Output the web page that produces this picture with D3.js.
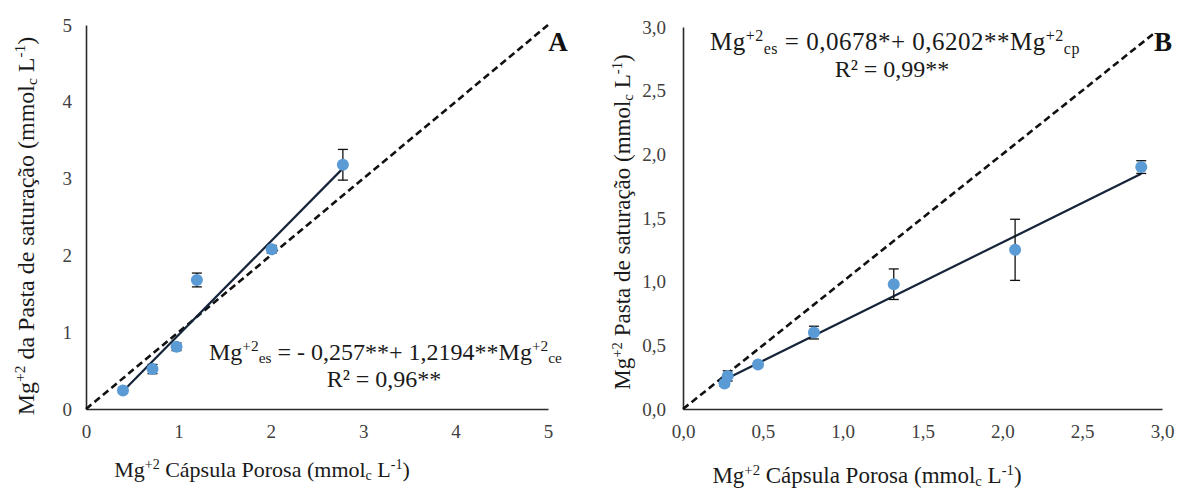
<!DOCTYPE html>
<html>
<head>
<meta charset="utf-8">
<script src="https://cdn.jsdelivr.net/npm/d3@7"></script>
<style>
  body { margin: 0; background: #fff; }
  svg text { font-family: "Liberation Serif", serif; }
</style>
</head>
<body>
<div id="chart"></div>
<script>
// Painel A
const capsulaA = [0.40, 0.72, 0.98, 1.20, 2.01, 2.78];
const pastaA = [0.24, 0.52, 0.81, 1.68, 2.08, 3.18];
const erroA = [0.03, 0.06, 0.05, 0.09, 0.05, 0.20];
const coefA = [-0.257, 1.2194];
const ticksA = [0, 1, 2, 3, 4, 5];

// Painel B
const capsulaB = [0.26, 0.28, 0.47, 0.82, 1.32, 2.08, 2.87];
const pastaB = [0.20, 0.26, 0.35, 0.60, 0.98, 1.25, 1.90];
const erroB = [0.02, 0.04, 0.02, 0.05, 0.12, 0.24, 0.05];
const coefB = [0.0678, 0.6202];
const ticksB = [0, 0.5, 1, 1.5, 2, 2.5, 3];

const width = 1178;
const height = 490;
const serif = '"Liberation Serif", serif';

const svg = d3.select("#chart")
    .append("svg")
    .attr("width", width)
    .attr("height", height)
    .attr("font-family", serif);

svg.append("rect").attr("width", width).attr("height", height).attr("fill", "#fff");

// texto com sobrescrito / subscrito
function rich(g, x, y, parts, size, anchor, rotate, spacing) {
    const t = g.append("text")
        .attr("x", x)
        .attr("y", y)
        .attr("text-anchor", anchor || "start")
        .style("font-family", serif)
        .style("font-size", size + "px")
        .attr("fill", "#1a1a1a");
    if (spacing) t.style("letter-spacing", spacing + "px");
    if (rotate) t.attr("transform", `rotate(-90, ${x}, ${y})`);
    let shift = 0;
    parts.forEach(p => {
        const [txt, mode] = p;
        let target = 0;
        let fs = size;
        if (mode === "sup") { target = -size * 0.36; fs = size * 0.64; }
        if (mode === "sub") { target = size * 0.14; fs = size * 0.64; }
        t.append("tspan")
            .attr("dy", target - shift)
            .style("font-size", fs + "px")
            .text(txt);
        shift = target;
    });
    return t;
}

function panel(cfg) {
    const x = d3.scaleLinear().domain(cfg.domain).range(cfg.xr);
    const y = d3.scaleLinear().domain(cfg.domain).range(cfg.yr);
    const g = svg.append("g");

    const xAxis = g.append("g")
        .attr("transform", `translate(0, ${cfg.yr[0]})`)
        .call(d3.axisBottom(x).tickValues(cfg.ticks).tickSize(0).tickPadding(cfg.xPad).tickFormat(cfg.fmt));
    const yAxis = g.append("g")
        .attr("transform", `translate(${cfg.xr[0]}, 0)`)
        .call(d3.axisLeft(y).tickValues(cfg.ticks).tickSize(0).tickPadding(cfg.yPad).tickFormat(cfg.fmt));

    [xAxis, yAxis].forEach(a => {
        a.attr("font-family", serif);
        a.select(".domain").attr("stroke", "#2b2b2b").attr("stroke-width", 1.6);
        a.selectAll("text")
            .style("font-family", serif)
            .style("font-size", "19px")
            .attr("fill", "#404040");
    });

    // linha 1:1
    g.append("line")
        .attr("x1", x(0)).attr("y1", y(0))
        .attr("x2", x(cfg.diagEnd)).attr("y2", y(cfg.diagEnd))
        .attr("stroke", "#111")
        .attr("stroke-width", 2.6)
        .attr("stroke-dasharray", "7,4");

    // regressão
    const xmin = d3.min(cfg.xs), xmax = d3.max(cfg.xs);
    g.append("line")
        .attr("x1", x(xmin)).attr("y1", y(cfg.coef[0] + cfg.coef[1] * xmin))
        .attr("x2", x(xmax)).attr("y2", y(cfg.coef[0] + cfg.coef[1] * xmax))
        .attr("stroke", "#16243a")
        .attr("stroke-width", 2.2);

    const pts = cfg.xs.map((v, i) => ({ x: v, y: cfg.ys[i], e: cfg.err[i] }));

    // barras de erro
    const eb = g.selectAll(".eb").data(pts).enter().append("g").attr("class", "eb");
    eb.append("line")
        .attr("x1", d => x(d.x)).attr("x2", d => x(d.x))
        .attr("y1", d => y(d.y - d.e)).attr("y2", d => y(d.y + d.e))
        .attr("stroke", "#111").attr("stroke-width", 1.3);
    [-1, 1].forEach(s => {
        eb.append("line")
            .attr("x1", d => x(d.x) - 5).attr("x2", d => x(d.x) + 5)
            .attr("y1", d => y(d.y + s * d.e)).attr("y2", d => y(d.y + s * d.e))
            .attr("stroke", "#111").attr("stroke-width", 1.3);
    });

    g.selectAll(".pt").data(pts).enter().append("circle")
        .attr("class", "pt")
        .attr("cx", d => x(d.x))
        .attr("cy", d => y(d.y))
        .attr("r", 6)
        .attr("fill", "#5b9bd5");

    return g;
}

const fmtA = d3.format("d");
const fmtB = d => d3.format(".1f")(d).replace(".", ",");

panel({
    domain: [0, 5], xr: [86, 548], yr: [409, 25],
    ticks: ticksA, fmt: fmtA, xPad: 16, yPad: 14,
    xs: capsulaA, ys: pastaA, err: erroA, coef: coefA, diagEnd: 5
});

panel({
    domain: [0, 3], xr: [683, 1162], yr: [409, 27],
    ticks: ticksB, fmt: fmtB, xPad: 16, yPad: 17,
    xs: capsulaB, ys: pastaB, err: erroB, coef: coefB, diagEnd: 2.95
});

const sup2 = ["+2", "sup"];

// rótulos A
rich(svg, 262, 477, [["Mg", ""], sup2, ["  Cápsula Porosa (mmol", ""], ["c", "sub"], [" L", ""], ["-1", "sup"], [")", ""]], 22, "middle");
rich(svg, 34, 226, [["Mg", ""], sup2, ["  da Pasta de saturação (mmol", ""], ["c", "sub"], [" L", ""], ["-1", "sup"], [")", ""]], 24, "middle", true);
rich(svg, 209, 360, [["Mg", ""], sup2, ["es", "sub"], [" = - 0,257**+ 1,2194**Mg", ""], sup2, ["ce", "sub"]], 24, "start");
rich(svg, 384, 387, [["R² = 0,96**", ""]], 24, "middle");
svg.append("text").attr("x", 558).attr("y", 51).attr("text-anchor", "middle")
    .style("font-size", "27px").style("font-weight", "bold").attr("fill", "#111").text("A");

// rótulos B
rich(svg, 867, 483, [["Mg", ""], sup2, ["  Cápsula Porosa (mmol", ""], ["c", "sub"], [" L", ""], ["-1", "sup"], [")", ""]], 23, "middle");
rich(svg, 630, 222, [["Mg", ""], sup2, ["  Pasta de saturação (mmol", ""], ["c", "sub"], [" L", ""], ["-1", "sup"], [")", ""]], 23, "middle", true);
rich(svg, 710, 50, [["Mg", ""], sup2, ["es", "sub"], ["  = 0,0678*+ 0,6202**Mg", ""], sup2, ["cp", "sub"]], 25, "start", false, 0.5);
rich(svg, 892, 77, [["R² = 0,99**", ""]], 24, "middle");
svg.append("text").attr("x", 1163).attr("y", 51).attr("text-anchor", "middle")
    .style("font-size", "27px").style("font-weight", "bold").attr("fill", "#111").text("B");
</script>
</body>
</html>
